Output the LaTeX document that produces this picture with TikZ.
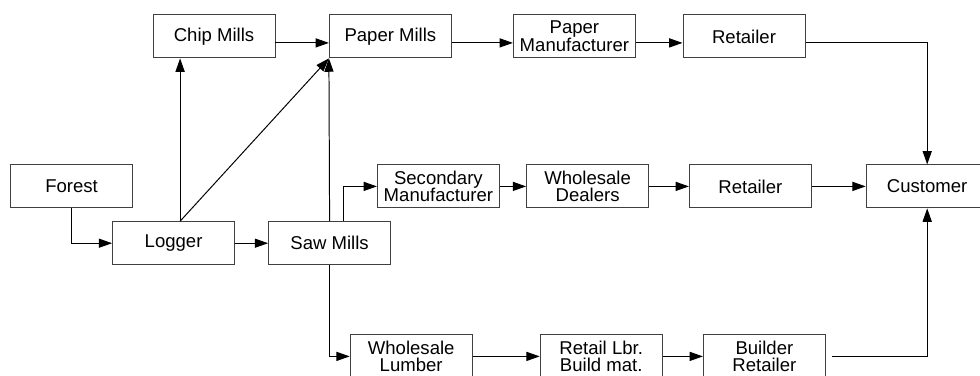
\documentclass[tikz,border=0pt]{standalone}
\usepackage{fontspec}
\setmainfont{Liberation Sans}
\usepackage{tikz}
\usetikzlibrary{arrows.meta, positioning, calc}
\definecolor{boxgray}{RGB}{64,64,64}

\begin{document}
\begin{tikzpicture}[
    box/.style={draw=boxgray,line width=0.7pt,minimum width=3.05cm,minimum height=1.075cm,inner sep=0pt,align=center,font=\fontsize{13.2}{12.6}\selectfont},
    flow/.style={-{Triangle[length=9.5pt,width=6.5pt]},line width=0.7pt}
]
    \clip (0,0) rectangle (24.5,-9.375);
    % Paper chain
    \node[box] (chip) at (5.35,-0.91) {Chip Mills};
    \node[box] (paper) at (9.76,-0.91) {Paper Mills};
    \node[box] (papman) at (14.36,-0.91) {Paper\\Manufacturer};
    \node[box] (retailA) at (18.6,-0.91) {Retailer};
    % Wood chain
    \node[box] (forest) at (1.79,-4.66) {Forest};
    \node[box] (logger) at (4.34,-6.08) {Logger};
    \node[box] (saw) at (8.24,-6.08) {Saw Mills};
    \node[box] (secman) at (10.96,-4.66) {Secondary\\Manufacturer};
    \node[box] (dealers) at (14.69,-4.66) {Wholesale\\Dealers};
    \node[box] (retailB) at (18.76,-4.66) {Retailer};
    \node[box] (customer) at (23.18,-4.66) {Customer};
    % Lumber chain
    \node[box] (lumber) at (10.28,-8.91) {Wholesale\\Lumber};
    \node[box] (retlbr) at (15.03,-8.91) {Retail Lbr.\\Build mat.};
    \node[box] (builder) at (19.11,-8.91) {Builder\\Retailer};
    % Straight arrows
    \foreach \a/\b in {chip/paper,paper/papman,papman/retailA} {
        \draw[flow] ([yshift=-0.1625cm]\a.east) -- ([yshift=-0.1625cm]\b.west);
    }
    \foreach \a/\b in {logger/saw,secman/dealers,dealers/retailB,retailB/customer,lumber/retlbr,retlbr/builder} {
        \draw[flow] (\a.east) -- (\b.west);
    }
    % Branches
    \draw[flow] (forest.south) |- (logger.west);
    \draw[flow] ([xshift=0.1625cm]logger.north) -- ([xshift=0.1625cm]logger.north |- chip.south);
    \draw[flow] ([xshift=0.1625cm]logger.north) -- (paper.south west);
    \draw[flow] (saw.north) -- (paper.south west);
    \draw[flow] ([xshift=0.3375cm]saw.north) |- (secman.west);
    \draw[flow] (saw.south) |- (lumber.west);
    \draw[flow] ([yshift=-0.1625cm]retailA.east) -| (customer.north);
    \draw[flow] ([xshift=0.15cm]builder.east) -| (customer.south);
\end{tikzpicture}
\end{document}
